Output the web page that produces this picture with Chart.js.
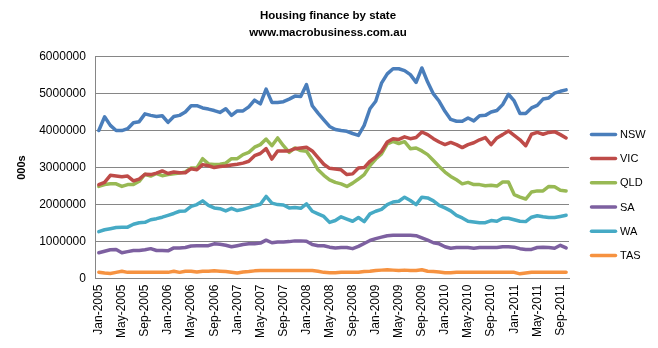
<!DOCTYPE html>
<html>
<head>
<meta charset="utf-8">
<script src="https://cdn.jsdelivr.net/npm/chart.js@4.4.0/dist/chart.umd.min.js"></script>
<style>
html,body{margin:0;padding:0;background:#fff;}
#wrap{width:658px;height:348px;}
</style>
</head>
<body>
<div id="wrap"><canvas id="c" width="658" height="348"></canvas></div>
<script>
const months = ['Jan','Feb','Mar','Apr','May','Jun','Jul','Aug','Sep','Oct','Nov','Dec'];
const categories = [];
for (let y = 2005; y <= 2011; y++) {
  for (let m = 0; m < 12; m++) {
    if (y === 2011 && m > 9) break;
    categories.push(months[m] + '-' + y);
  }
}

const NSW = [4.00,4.37,4.14,4.00,4.00,4.05,4.21,4.24,4.45,4.41,4.38,4.40,4.22,4.38,4.41,4.50,4.67,4.67,4.61,4.58,
  4.54,4.49,4.59,4.41,4.53,4.53,4.64,4.82,4.72,5.12,4.76,4.76,4.78,4.85,4.93,4.92,5.24,4.67,4.47,4.29,4.11,
  4.03,4.00,3.98,3.92,3.87,4.14,4.59,4.79,5.28,5.53,5.67,5.67,5.62,5.51,5.30,5.69,5.31,4.99,4.79,4.52,
  4.30,4.25,4.25,4.34,4.26,4.40,4.41,4.50,4.54,4.70,4.98,4.80,4.46,4.46,4.61,4.68,4.85,4.88,5.01,5.06,5.10];
const VIC = [2.54,2.60,2.79,2.77,2.75,2.77,2.64,2.69,2.82,2.81,2.85,2.91,2.84,2.88,2.86,2.86,2.97,2.94,3.08,3.05,
  3.00,3.03,3.04,3.07,3.09,3.12,3.17,3.32,3.38,3.51,3.23,3.45,3.45,3.45,3.51,3.53,3.55,3.45,3.27,3.09,2.98,
  2.96,2.94,2.81,2.83,2.99,3.00,3.17,3.29,3.44,3.69,3.78,3.76,3.83,3.78,3.81,3.96,3.89,3.78,3.69,3.62,
  3.68,3.62,3.54,3.62,3.67,3.75,3.81,3.62,3.80,3.89,3.99,3.87,3.75,3.59,3.90,3.95,3.90,3.95,3.97,3.89,3.80];
const QLD = [2.49,2.54,2.56,2.56,2.49,2.54,2.54,2.63,2.82,2.77,2.84,2.78,2.81,2.83,2.85,2.88,2.99,2.99,3.24,3.10,
  3.08,3.09,3.12,3.24,3.24,3.35,3.41,3.55,3.62,3.77,3.59,3.80,3.59,3.41,3.53,3.46,3.44,3.21,2.94,2.79,2.67,
  2.60,2.56,2.49,2.58,2.69,2.81,3.05,3.23,3.37,3.64,3.71,3.65,3.70,3.51,3.53,3.45,3.35,3.19,3.03,2.88,
  2.76,2.67,2.56,2.60,2.54,2.54,2.51,2.52,2.50,2.61,2.61,2.27,2.20,2.15,2.34,2.37,2.37,2.49,2.48,2.39,2.37];
const SA = [0.70,0.74,0.78,0.79,0.70,0.73,0.76,0.76,0.78,0.81,0.76,0.76,0.75,0.83,0.83,0.84,0.88,0.89,0.89,0.89,
  0.94,0.93,0.90,0.86,0.89,0.92,0.94,0.94,0.96,1.04,0.97,0.99,0.99,1.00,1.02,1.02,1.01,0.92,0.89,0.89,0.85,
  0.83,0.84,0.84,0.81,0.87,0.95,1.03,1.08,1.12,1.16,1.17,1.17,1.17,1.17,1.16,1.10,1.04,0.97,0.94,0.86,
  0.82,0.84,0.84,0.84,0.82,0.84,0.84,0.84,0.84,0.86,0.86,0.85,0.81,0.79,0.79,0.84,0.85,0.84,0.82,0.90,0.83];
const WA = [1.27,1.32,1.35,1.38,1.39,1.39,1.47,1.51,1.52,1.59,1.62,1.66,1.71,1.76,1.82,1.83,1.95,2.00,2.10,1.98,
  1.91,1.89,1.83,1.90,1.84,1.87,1.92,1.97,2.01,2.22,2.04,2.00,1.99,1.91,1.92,1.90,2.02,1.82,1.75,1.68,1.52,
  1.57,1.67,1.61,1.55,1.65,1.54,1.75,1.82,1.87,2.00,2.07,2.09,2.20,2.11,2.00,2.20,2.18,2.10,1.98,1.91,
  1.83,1.71,1.64,1.55,1.53,1.51,1.51,1.57,1.55,1.63,1.63,1.59,1.55,1.54,1.66,1.70,1.67,1.65,1.65,1.68,1.71];
const TAS = [0.17,0.15,0.14,0.17,0.20,0.17,0.17,0.17,0.17,0.17,0.17,0.17,0.17,0.20,0.17,0.20,0.20,0.18,0.20,0.20,
  0.21,0.20,0.19,0.17,0.15,0.18,0.19,0.21,0.22,0.22,0.22,0.22,0.22,0.22,0.22,0.22,0.22,0.22,0.20,0.17,0.16,
  0.16,0.17,0.17,0.17,0.17,0.19,0.20,0.22,0.23,0.24,0.23,0.22,0.23,0.22,0.22,0.24,0.20,0.19,0.18,0.16,
  0.16,0.17,0.17,0.17,0.17,0.17,0.17,0.17,0.17,0.17,0.17,0.17,0.13,0.15,0.17,0.17,0.17,0.17,0.17,0.17,0.17];

const seriesNames = ['NSW','VIC','QLD','SA','WA','TAS'];
const seriesData = [NSW, VIC, QLD, SA, WA, TAS];
const seriesColors = ['#4A7EBB','#BE4B48','#98B954','#7D60A0','#46AAC5','#F69240'];
const yTicks = [0,1000000,2000000,3000000,4000000,5000000,6000000];

const datasets = seriesNames.map((n, k) => ({
  label: n,
  data: seriesData[k].map(v => Math.round(v * 1000000)),
  borderColor: seriesColors[k],
  backgroundColor: seriesColors[k],
  borderWidth: 3.5,
  pointRadius: 0,
  tension: 0,
  borderJoinStyle: 'round',
  borderCapStyle: 'round'
}));

const FONT = "'Liberation Sans', Arial, sans-serif";
Chart.defaults.font.family = FONT;
Chart.defaults.color = '#000';

// Legend drawn to the right of the plot area, from the dataset labels/colours
const legendPlugin = {
  id: 'sideLegend',
  afterDraw(chart) {
    const ctx = chart.ctx;
    const ca = chart.chartArea;
    const x0 = ca.right + 22.5;
    const lineLen = 24;
    const step = 24.2;
    const n = chart.data.datasets.length;
    const yStart = chart.height * 0.56 - step * (n - 1) / 2;
    ctx.save();
    ctx.font = "11px " + FONT;
    ctx.textBaseline = 'middle';
    ctx.textAlign = 'left';
    chart.data.datasets.forEach((d, i) => {
      const y = yStart + i * step;
      ctx.strokeStyle = d.borderColor;
      ctx.lineWidth = 3.5;
      ctx.lineCap = 'round';
      ctx.beginPath();
      ctx.moveTo(x0, y);
      ctx.lineTo(x0 + lineLen, y);
      ctx.stroke();
      ctx.fillStyle = '#000';
      ctx.fillText(d.label, x0 + lineLen + 4.5, y + 0.5);
    });
    ctx.restore();
  }
};

new Chart(document.getElementById('c'), {
  type: 'line',
  data: { labels: categories, datasets },
  plugins: [legendPlugin],
  options: {
    responsive: false,
    animation: false,
    devicePixelRatio: 1,
    layout: { padding: { left: 15, right: 17, top: 0, bottom: 4 } },
    plugins: {
      tooltip: { enabled: false },
      legend: { display: false },
      title: {
        display: true,
        text: ['Housing finance by state', 'www.macrobusiness.com.au'],
        font: { size: 11.5, weight: 'bold', lineHeight: 1.5 },
        color: '#000',
        padding: { top: 7, bottom: 15 }
      }
    },
    scales: {
      x: {
        offset: true,
        grid: { display: false, drawTicks: false },
        border: { display: true, color: '#868686', width: 1 },
        ticks: {
          autoSkip: false,
          maxRotation: 90,
          minRotation: 90,
          padding: 6,
          font: { size: 12 },
          color: '#000',
          callback: function(v, i) { return i % 4 === 0 ? categories[i] : ''; }
        }
      },
      y: {
        min: 0,
        max: 6000000,
        afterBuildTicks: (s) => { s.ticks = yTicks.map(v => ({ value: v })); },
        grid: { color: '#868686', lineWidth: 1, drawTicks: false },
        border: { display: true, color: '#868686', width: 1 },
        ticks: {
          padding: 10,
          font: { size: 12 },
          color: '#000',
          callback: (v) => String(v)
        },
        title: {
          display: true,
          text: '000s',
          font: { size: 11, weight: 'bold' },
          color: '#000',
          padding: { top: 0, bottom: 1 }
        }
      },
      legendSpace: {
        type: 'linear',
        position: 'right',
        display: true,
        grid: { display: false, drawOnChartArea: false, drawTicks: false },
        border: { display: false },
        ticks: { display: false },
        afterFit: (s) => { s.width = 72; }
      }
    }
  }
});
</script>
</body>
</html>
